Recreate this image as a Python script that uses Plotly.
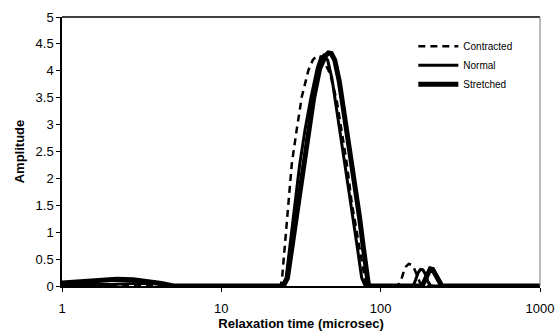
import plotly.graph_objects as go

# Relaxation time (microsec) and amplitude values
contracted_x = [1, 23.5, 24, 25, 26.4, 27.7, 29.7, 32, 35.2, 37.5, 39.5, 41.5, 44, 48.1, 53, 57, 61.3,
                65.9, 72.5, 79.8, 81, 128, 134, 139, 144, 150, 156, 162, 169, 176, 183, 1000]
contracted_y = [0, 0, 0.11, 0.73, 1.54, 2.28, 2.9, 3.52, 4.01, 4.2, 4.27, 4.27, 4.18, 3.95, 3.45, 2.9, 2.28,
                1.54, 0.79, 0.11, 0, 0, 0.1, 0.25, 0.36, 0.41, 0.4, 0.33, 0.2, 0.07, 0, 0]

normal_x = [1, 1.5, 2, 3, 4, 4.8, 24, 25.5, 27, 29, 31, 33.5, 36.5, 40, 42, 44, 46.5, 49.5, 53.5, 57.5,
            62, 66.5, 71.5, 76, 80, 82, 160, 166, 172, 178, 184, 191, 198, 207, 1000]
normal_y = [0.03, 0.03, 0.03, 0.05, 0.04, 0, 0, 0.15, 0.8, 1.5, 2.25, 2.9, 3.5, 4.05, 4.24, 4.29, 4.2,
            3.85, 3.2, 2.6, 1.95, 1.3, 0.7, 0.15, 0, 0, 0, 0.12, 0.25, 0.31, 0.3, 0.22, 0.08, 0, 0]

stretched_x = [1, 1.3, 1.7, 2.2, 2.8, 3.5, 4.2, 5, 24.5, 26, 28, 30, 32.5, 35, 38, 41.5, 45,
               47, 49, 51.5, 55, 59, 63.5, 68.5, 73.5, 78, 82, 84, 182, 190, 198, 205, 212, 220, 230,
               242, 1000]
stretched_y = [0.055, 0.075, 0.1, 0.125, 0.115, 0.085, 0.045, 0, 0, 0.15, 0.8, 1.5, 2.25, 2.85,
               3.5, 4.05, 4.28, 4.33, 4.32, 4.2, 3.8, 3.2, 2.6, 1.95, 1.3, 0.7, 0.1, 0, 0, 0.12, 0.26,
               0.32, 0.31, 0.22, 0.08, 0, 0]

x_tick_vals = [1, 10, 100, 1000]
x_tick_text = ["1", "10", "100", "1000"]
y_tick_vals = [0, 0.5, 1, 1.5, 2, 2.5, 3, 3.5, 4, 4.5, 5]
y_tick_text = ["0", "0.5", "1", "1.5", "2", "2.5", "3", "3.5", "4", "4.5", "5"]

FONT = "Arial, Liberation Sans, sans-serif"

fig = go.Figure()
fig.add_trace(go.Scatter(x=contracted_x, y=contracted_y, mode="lines", name="Contracted",
                         line=dict(color="black", width=2.5, dash="7px,5px")))
fig.add_trace(go.Scatter(x=normal_x, y=normal_y, mode="lines", name="Normal",
                         line=dict(color="black", width=3)))
fig.add_trace(go.Scatter(x=stretched_x, y=stretched_y, mode="lines", name="Stretched",
                         line=dict(color="black", width=5)))

fig.update_layout(
    width=557, height=331,
    margin=dict(l=62, r=17, t=17, b=45),
    paper_bgcolor="white", plot_bgcolor="white",
    font=dict(family=FONT, color="black", size=13),
    showlegend=True,
    legend=dict(x=0.735, y=0.945, xanchor="left", yanchor="top",
                font=dict(size=10, family=FONT), bgcolor="rgba(0,0,0,0)",
                tracegroupgap=0, itemwidth=40),
    xaxis=dict(type="log", range=[0, 3], tickvals=x_tick_vals, ticktext=x_tick_text,
               showgrid=False, zeroline=False, showline=True, linecolor="black", linewidth=1.5,
               ticks="outside", ticklen=4, tickcolor="black", automargin=False,
               ticklabelstandoff=6,
               title=dict(text="<b>Relaxation time (microsec)</b>", font=dict(size=13), standoff=0)),
    yaxis=dict(range=[0, 5], tickvals=y_tick_vals, ticktext=y_tick_text,
               showgrid=False, zeroline=False, showline=True, linecolor="black", linewidth=1.5,
               ticks="outside", ticklen=4, tickcolor="black", automargin=False,
               title=dict(text="<b>Amplitude</b>", font=dict(size=13), standoff=8)),
    shapes=[
        dict(type="line", xref="paper", yref="paper", x0=0, x1=1, y0=1, y1=1,
             line=dict(color="black", width=1.5)),
        dict(type="line", xref="paper", yref="paper", x0=1, x1=1, y0=0, y1=1,
             line=dict(color="#777777", width=1)),
    ],
)

fig.write_html("out.html")
